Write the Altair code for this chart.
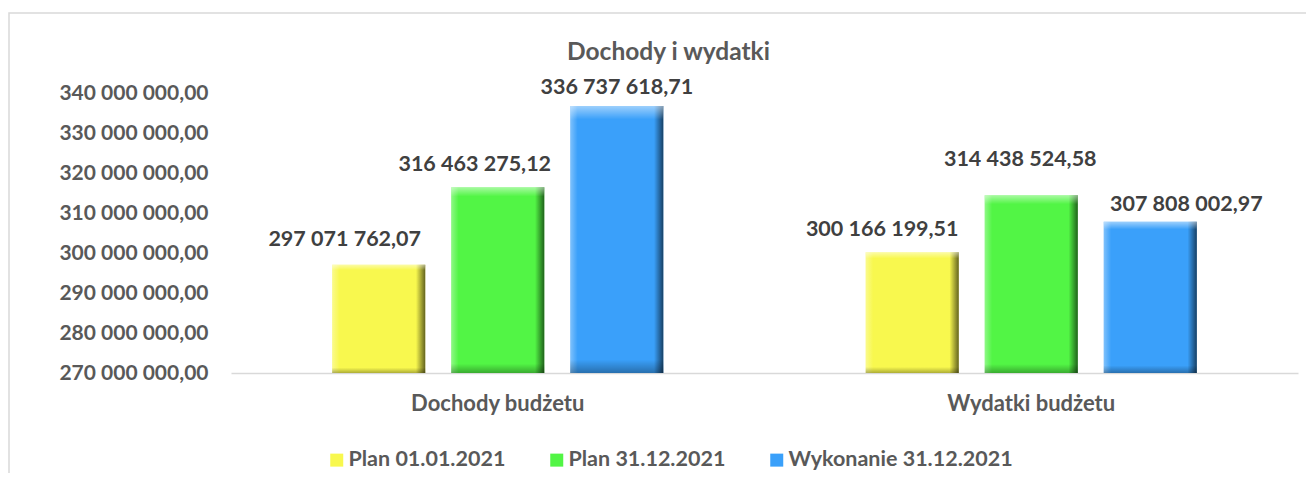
import altair as alt
import pandas as pd

categories = ["Dochody budżetu", "Wydatki budżetu"]
series = ["Plan 01.01.2021", "Plan 31.12.2021", "Wykonanie 31.12.2021"]
plan_0101 = [297071762.07, 300166199.51]
plan_3112 = [316463275.12, 314438524.58]
wykonanie_3112 = [336737618.71, 307808002.97]
y_ticks = [270000000, 280000000, 290000000, 300000000, 310000000, 320000000, 330000000, 340000000]
colors = ["#F8F84E", "#52F545", "#3AA0FA"]

rows = []
for i, c in enumerate(categories):
    for s, vals in zip(series, [plan_0101, plan_3112, wykonanie_3112]):
        rows.append({"kategoria": c, "seria": s, "wartosc": vals[i]})
df = pd.DataFrame(rows)

FONT = "Lato"
GRAY = "#595959"
W, H = 1067, 280
FS = 21.5

x_enc = alt.X("kategoria:N", sort=categories,
              scale=alt.Scale(paddingInner=0, paddingOuter=0),
              axis=alt.Axis(title=None, labelAngle=0, labelFontSize=22, labelFont=FONT,
                            labelFontWeight="bold", labelColor=GRAY, ticks=False,
                            domainColor="#D9D9D9", domainWidth=1.5, labelPadding=20))
xoff_enc = alt.XOffset("seria:N", sort=series,
                       scale=alt.Scale(paddingInner=0.218, paddingOuter=0.85))
y_enc = alt.Y("wartosc:Q",
              scale=alt.Scale(domain=[270000000, 340000000], zero=False, nice=False),
              axis=alt.Axis(title=None, values=y_ticks, format=",.2f", grid=False,
                            domain=False, ticks=False, labelPadding=23, labelFontSize=21,
                            labelFont=FONT, labelFontWeight="bold", labelColor=GRAY))
y2_enc = alt.datum(270000000)

base = alt.Chart(df)

bars = base.mark_bar(stroke=None).encode(
    x=x_enc, xOffset=xoff_enc, y=y_enc, y2=y2_enc,
    color=alt.Color("seria:N", sort=series,
                    scale=alt.Scale(domain=series, range=colors),
                    legend=alt.Legend(title=None, orient="none", legendX=95, legendY=356,
                                      direction="horizontal", symbolType="square",
                                      symbolSize=169, symbolStrokeWidth=0,
                                      labelFontSize=FS, labelFont=FONT, labelFontWeight="bold",
                                      labelColor=GRAY, labelOffset=1, columnPadding=40,
                                      labelLimit=400)),
)

shade_h = base.mark_bar(
    fill=alt.Gradient(gradient="linear", x1=0, x2=1, y1=0, y2=0, stops=[
        alt.GradientStop(color="rgba(255,255,255,0.35)", offset=0),
        alt.GradientStop(color="rgba(255,255,255,0)", offset=0.08),
        alt.GradientStop(color="rgba(0,0,0,0)", offset=0.9),
        alt.GradientStop(color="rgba(0,0,0,0.6)", offset=1),
    ])
).encode(x=x_enc, xOffset=xoff_enc, y=y_enc, y2=y2_enc)

shade_v = base.mark_bar(
    fill=alt.Gradient(gradient="linear", x1=0, x2=0, y1=0, y2=1, stops=[
        alt.GradientStop(color="rgba(255,255,255,0.5)", offset=0),
        alt.GradientStop(color="rgba(255,255,255,0)", offset=0.05),
        alt.GradientStop(color="rgba(0,0,0,0)", offset=0.95),
        alt.GradientStop(color="rgba(0,0,0,0.3)", offset=1),
    ])
).encode(x=x_enc, xOffset=xoff_enc, y=y_enc, y2=y2_enc)

# label nudges (style only): (category, series, dx, dy)
label_nudges = [
    (categories[0], series[0], -34, -25),
    (categories[0], series[1], -23, -22),
    (categories[0], series[2], 0, -18),
    (categories[1], series[0], -30, -22),
    (categories[1], series[1], -11, -35),
    (categories[1], series[2], 36, -17),
]
labels = []
for c, s, dx, dy in label_nudges:
    labels.append(
        base.transform_filter((alt.datum.kategoria == c) & (alt.datum.seria == s))
        .mark_text(font=FONT, fontSize=FS, fontWeight="bold", color="#404040",
                   baseline="middle", align="center", dx=dx, dy=dy)
        .encode(x=x_enc, xOffset=xoff_enc, y=y_enc, text=alt.Text("wartosc:Q", format=",.2f"))
    )

frame = alt.Chart(pd.DataFrame({"a": [0]})).mark_rect(
    fill=None, stroke="#D9D9D9", strokeWidth=1.5
).encode(x=alt.value(-222), x2=alt.value(1100), y=alt.value(-80), y2=alt.value(420))

chart = alt.layer(frame, bars, shade_h, shade_v, *labels).properties(
    width=W, height=H,
    title=alt.TitleParams("Dochody i wydatki", fontSize=24.5, font=FONT, fontWeight="bold",
                          color=GRAY, anchor="middle", frame="group", dx=-96, offset=-53),
    autosize=alt.AutoSizeParams(type="none"),
    padding={"left": 223, "top": 85, "right": 8, "bottom": 100},
).configure(
    locale=alt.Locale(number=alt.NumberLocale(decimal=",", thousands=" ", grouping=[3],
                                              currency=["", " zł"])),
).configure_view(stroke=None)

chart.save("out.html", embed_options={"renderer": "svg", "actions": False})
